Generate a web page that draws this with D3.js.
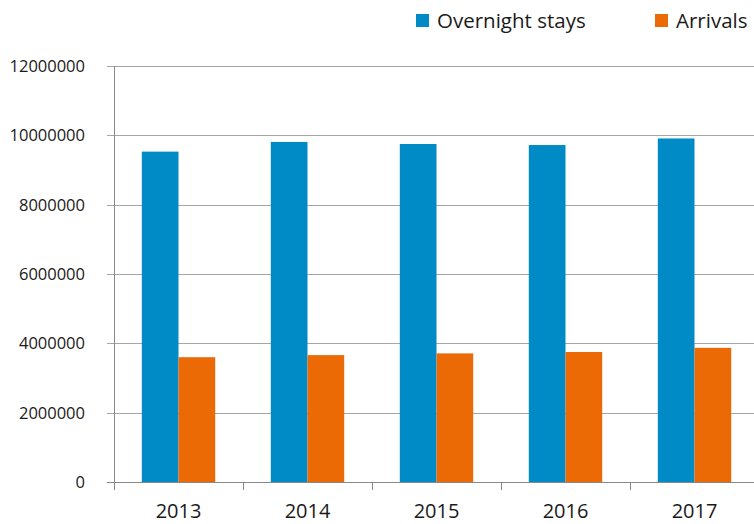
<!DOCTYPE html>
<html>
<head>
<meta charset="utf-8">
<script src="https://cdn.jsdelivr.net/npm/d3@7"></script>
<style>
  body { margin: 0; background: #fff; }
  text { font-family: "Open Sans", sans-serif; fill: #1a1a1a; }
</style>
</head>
<body>
<script>
//chart data
var years = ["2013", "2014", "2015", "2016", "2017"];
var seriesNames = ["Overnight stays", "Arrivals"];
var overnightStays = [9530000, 9810000, 9750000, 9720000, 9910000];
var arrivals = [3600000, 3660000, 3710000, 3750000, 3870000];
var yTicks = [0, 2000000, 4000000, 6000000, 8000000, 10000000, 12000000];

var colors = ["#008bc6", "#ec6a06"];

//frame
var width = 754,
    height = 524;

var svg = d3.select("body")
    .append("svg")
    .attr("width", width)
    .attr("height", height);

var plotLeft = 114, plotTop = 66, plotBottom = 482;

//scales
var y = d3.scaleLinear()
    .domain([0, 12000000])
    .range([plotBottom, plotTop]);

var x = d3.scaleBand()
    .domain(years)
    .range([plotLeft, plotLeft + 129 * years.length])
    .padding(0);

var xSub = d3.scaleBand()
    .domain(seriesNames)
    .range([27.8, 101.2])
    .padding(0);

//gridlines
svg.selectAll(".grid")
    .data(yTicks)
    .enter()
    .append("line")
    .attr("x1", plotLeft - 7)
    .attr("x2", width)
    .attr("y1", function(d){ return Math.round(y(d)) + 0.5; })
    .attr("y2", function(d){ return Math.round(y(d)) + 0.5; })
    .attr("stroke", function(d){ return d === 0 ? "#888" : "#a6a6a6"; })
    .attr("stroke-width", 1);

//y tick labels
svg.selectAll(".ylab")
    .data(yTicks)
    .enter()
    .append("text")
    .attr("x", 85)
    .attr("y", function(d){ return y(d); })
    .attr("dy", "0.36em")
    .attr("text-anchor", "end")
    .style("font-size", "16.5px")
    .text(function(d){ return d; });

//bars
var rows = years.map(function(yr, i){
    return { year: yr, values: [overnightStays[i], arrivals[i]] };
});

var groups = svg.selectAll(".year")
    .data(rows)
    .enter()
    .append("g")
    .attr("transform", function(d){ return "translate(" + x(d.year) + ",0)"; });

groups.selectAll("rect")
    .data(function(d){
        return d.values.map(function(v, j){ return { name: seriesNames[j], value: v, j: j }; });
    })
    .enter()
    .append("rect")
    .attr("x", function(d){ return xSub(d.name); })
    .attr("width", xSub.bandwidth())
    .attr("y", function(d){ return y(d.value); })
    .attr("height", function(d){ return plotBottom - y(d.value); })
    .attr("fill", function(d){ return colors[d.j]; });

//axis lines
svg.append("line")
    .attr("x1", plotLeft + 0.5).attr("x2", plotLeft + 0.5)
    .attr("y1", plotTop).attr("y2", plotBottom + 8)
    .attr("stroke", "#888");

svg.selectAll(".xtick")
    .data(years.slice(1))
    .enter()
    .append("line")
    .attr("x1", function(d){ return Math.round(x(d)) + 0.5; })
    .attr("x2", function(d){ return Math.round(x(d)) + 0.5; })
    .attr("y1", plotBottom)
    .attr("y2", plotBottom + 8)
    .attr("stroke", "#888");

//x labels
svg.selectAll(".xlab")
    .data(years)
    .enter()
    .append("text")
    .attr("x", function(d){ return x(d) + x.bandwidth() / 2; })
    .attr("y", 511)
    .attr("dy", "0.36em")
    .attr("text-anchor", "middle")
    .style("font-size", "20px")
    .text(function(d){ return d; });

//legend
var legendX = [416, 655];
var legend = svg.selectAll(".legend")
    .data(seriesNames)
    .enter()
    .append("g")
    .attr("transform", function(d, i){ return "translate(" + legendX[i] + ",14)"; });

legend.append("rect")
    .attr("width", 13)
    .attr("height", 13)
    .attr("fill", function(d, i){ return colors[i]; });

legend.append("text")
    .attr("x", 21)
    .attr("y", 6.5)
    .attr("dy", "0.36em")
    .style("font-size", "20.5px")
    .text(function(d){ return d; });
</script>
</body>
</html>
